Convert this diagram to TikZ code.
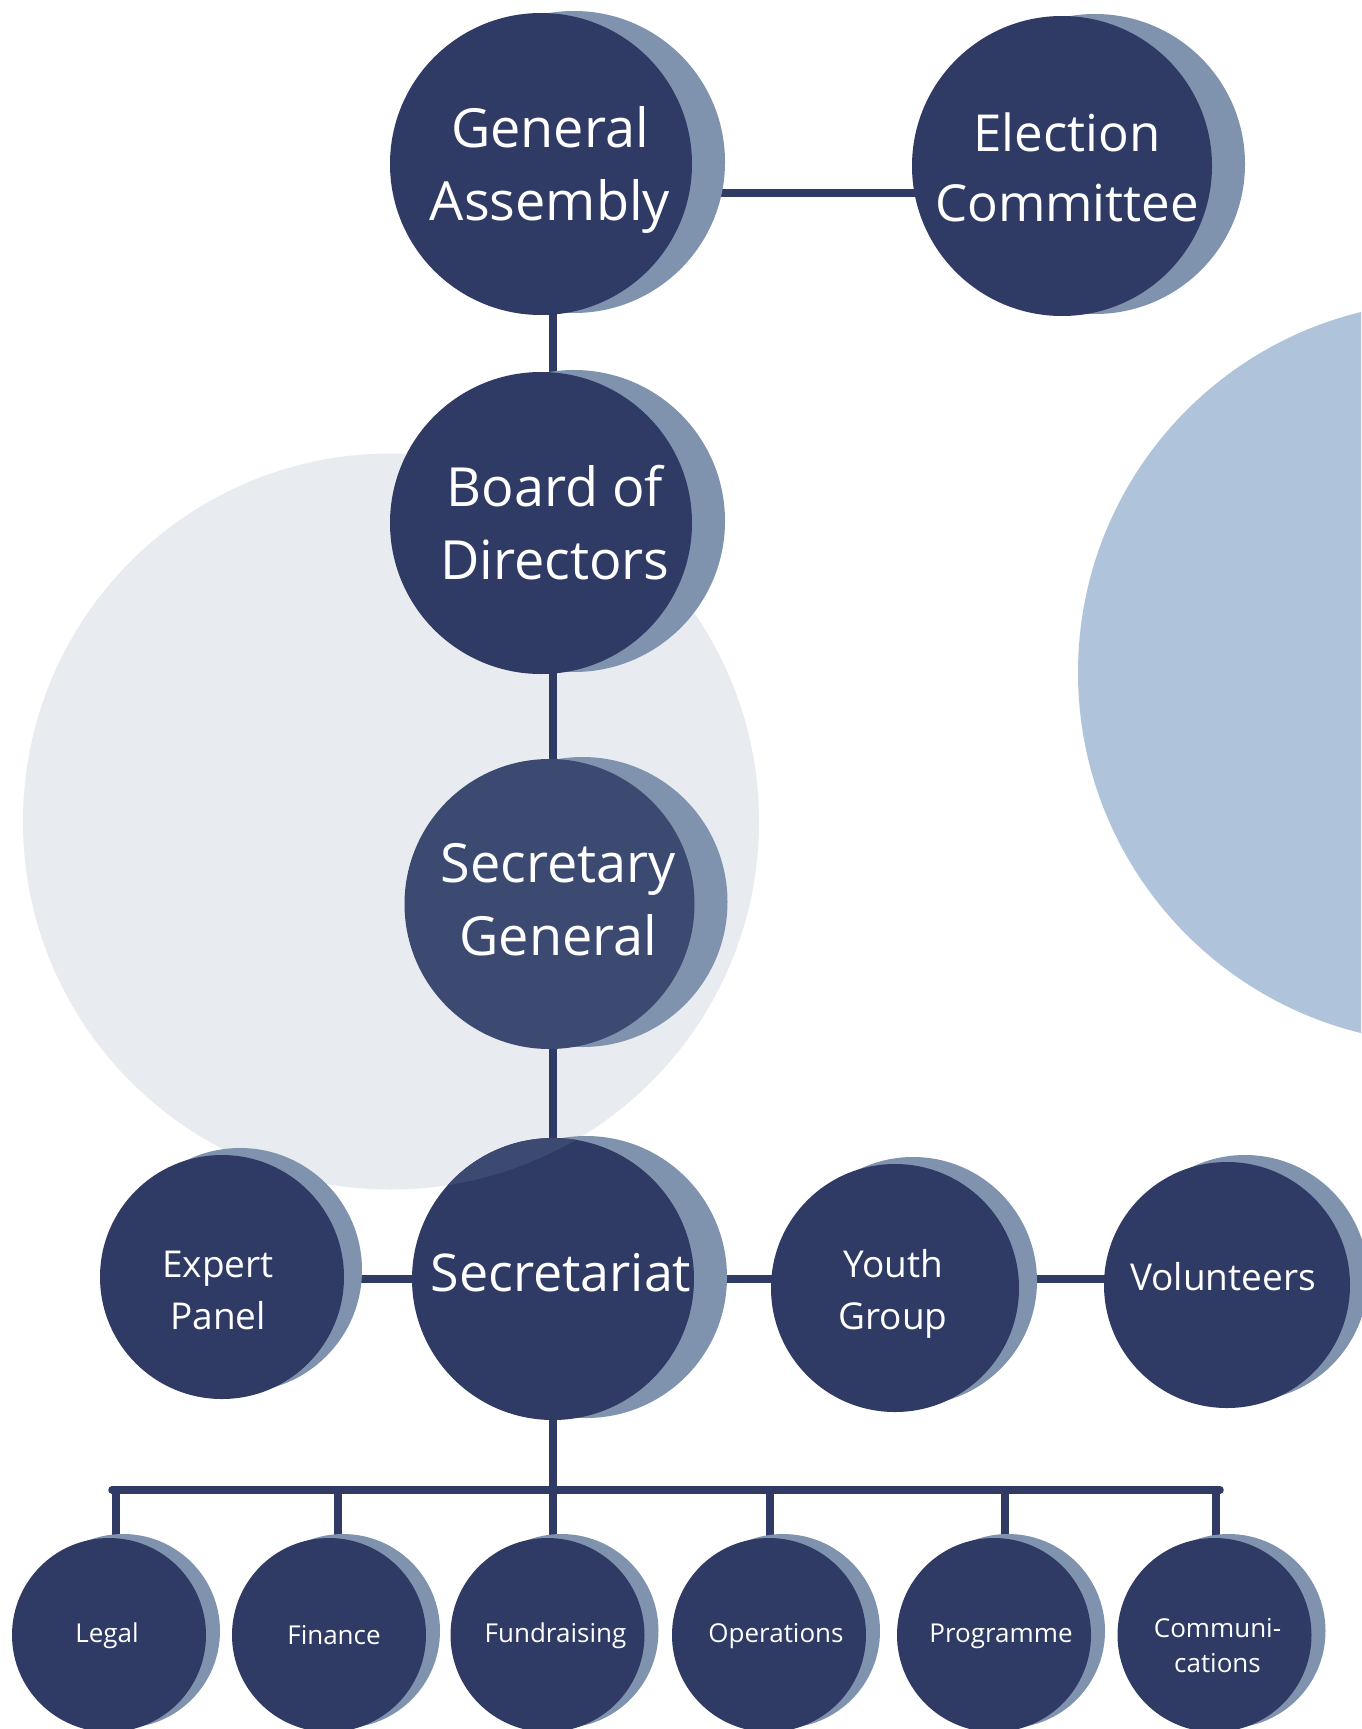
\documentclass[tikz,border=0pt]{standalone}
\usepackage{fontspec}
\setmainfont{Open Sans}
\usetikzlibrary{shadows,calc}
\pgfdeclarelayer{bg}
\pgfdeclarelayer{lines}
\pgfsetlayers{bg,lines,main}
\definecolor{navy}{HTML}{2F3A65}
\definecolor{navyL}{HTML}{3C4A72}
\definecolor{shd}{HTML}{7F93AE}
\definecolor{greyb}{HTML}{E8EBF0}
\definecolor{blueb}{HTML}{AFC4DA}
\begin{document}
\begin{tikzpicture}[x=1pt,y=-1pt,
  orgc/.style={circle, inner sep=0pt, fill=navy, minimum size=#1},
  shbig/.style={general shadow={shadow xshift=33pt, shadow yshift=2pt, fill=shd, draw=none}},
  shmid/.style={general shadow={shadow xshift=18pt, shadow yshift=7pt, fill=shd, draw=none}},
  shsmall/.style={general shadow={shadow xshift=14pt, shadow yshift=4pt, fill=shd, draw=none}},
  lbl/.style={text=white, align=center, inner sep=0pt},
  bigtext/.style={lbl, font=\fontsize{54}{73}\selectfont},
  ectext/.style={lbl, font=\fontsize{51}{70}\selectfont},
  sectext/.style={lbl, font=\fontsize{52}{70}\selectfont},
  midtext/.style={lbl, font=\fontsize{37}{52}\selectfont},
  smalltext/.style={lbl, font=\fontsize{26}{35}\selectfont},
  conn/.style={draw=navy, line width=7.5pt, line cap=round}]
\useasboundingbox (0,0) rectangle (1361,1729);

\begin{pgfonlayer}{bg}
  \fill[white] (0,0) rectangle (1361,1729);
  \begin{scope}
    \clip (0,0) rectangle (1361,1729);
    \fill[greyb] (391,821.5) circle (368pt);
    \fill[blueb] (1449,672.5) circle (371pt);
  \end{scope}
\end{pgfonlayer}

% main units
\node[orgc=302pt, shbig] (ga) at (541,164) {};
\node[bigtext] (gat) at ([xshift=9pt,yshift=-6pt]ga.center) {General\\Assembly};
\node[orgc=300pt, shbig] (ec) at (1062,166) {};
\node[ectext] (ect) at ([xshift=5pt,yshift=-1pt]ec.center) {Election\\Committee};
\node[orgc=290pt, shbig, fill=navyL] (sg) at (549.5,904) {};
\node[bigtext] (sgt) at ([xshift=9pt,yshift=4pt]sg.center) {Secretary\\General};
\node[orgc=282pt, shbig] (sec) at (553,1279) {};
\begin{scope}
  \clip (391,821.5) circle (368pt);
  \fill[navyL] (sec.center) circle (141pt);
\end{scope}
\node[sectext] (sect) at ([xshift=8pt,yshift=6pt]sec.center) {Secretariat};
\node[orgc=302pt, shbig] (bod) at (541,523) {};
\node[bigtext] (bodt) at ([xshift=14pt]bod.center) {Board of\\Directors};

\node[orgc=244pt, shmid] (exp) at (222,1277) {};
\node[midtext] (expt) at ([xshift=-4pt,yshift=-13pt]exp.center) {Expert\\Panel};
\node[orgc=248pt, shmid] (yg) at (895,1288) {};
\node[midtext] (ygt) at ([xshift=-2pt,yshift=-6pt]yg.center) {Youth\\Group};
\node[orgc=246pt, shmid] (vol) at (1227,1285) {};
\node[midtext] (volt) at ([xshift=-4pt,yshift=8pt]vol.center) {Volunteers};

\node[orgc=194pt, shsmall] (legal) at (109,1635) {};
\node[smalltext] (legalt) at ([xshift=-2pt,yshift=-1pt]legal.center) {Legal};
\node[orgc=194pt, shsmall] (fin) at (329,1635) {};
\node[smalltext] (fint) at ([xshift=5pt]fin.center) {Finance};
\node[orgc=194pt, shsmall] (fund) at (547.5,1635) {};
\node[smalltext] (fundt) at ([xshift=8pt,yshift=-1pt]fund.center) {Fundraising};
\node[orgc=194pt, shsmall] (ops) at (769,1635) {};
\node[smalltext] (opst) at ([xshift=7pt,yshift=-1pt]ops.center) {Operations};
\node[orgc=194pt, shsmall] (prog) at (994,1635) {};
\node[smalltext] (progt) at ([xshift=7pt,yshift=-1pt]prog.center) {Programme};
\node[orgc=194pt, shsmall] (comm) at (1214.5,1635) {};
\node[smalltext] (commt) at ([xshift=3pt,yshift=-11pt]comm.center) {Communi-\\cations};

% connectors
\coordinate (barL) at (112,1490);
\coordinate (barR) at (1220,1490);
\coordinate (dL) at (116,1490);
\coordinate (dF) at (338,1490);
\coordinate (dU) at (553,1490);
\coordinate (dO) at (770,1490);
\coordinate (dP) at (1005,1490);
\coordinate (dC) at (1216,1490);
\begin{pgfonlayer}{lines}
  \draw[conn] ([xshift=177pt,yshift=-29pt]ga.center) -- ([yshift=-27pt]ec.center);
  \draw[conn] ([xshift=12pt]ga.center) -- ([xshift=12pt]bod.center);
  \draw[conn] ([xshift=12pt]bod.center) -- ([xshift=3.5pt]sg.center);
  \draw[conn] ([xshift=3.5pt]sg.center) -- (sec.center);
  \draw[conn] (exp.center |- sec.center) -- (sec.center);
  \draw[conn] (sec.center) -- (sec.center -| yg.center);
  \draw[conn] (yg.center |- sec.center) -- (vol.center |- sec.center);
  \draw[conn] (sec.center) -- (sec.center |- barL);
  \draw[conn] (barL) -- (barR);
  \draw[conn] (dL) -- (dL |- legal.center);
  \draw[conn] (dF) -- (dF |- fin.center);
  \draw[conn] (dU) -- (dU |- fund.center);
  \draw[conn] (dO) -- (dO |- ops.center);
  \draw[conn] (dP) -- (dP |- prog.center);
  \draw[conn] (dC) -- (dC |- comm.center);
\end{pgfonlayer}
\end{tikzpicture}
\end{document}
